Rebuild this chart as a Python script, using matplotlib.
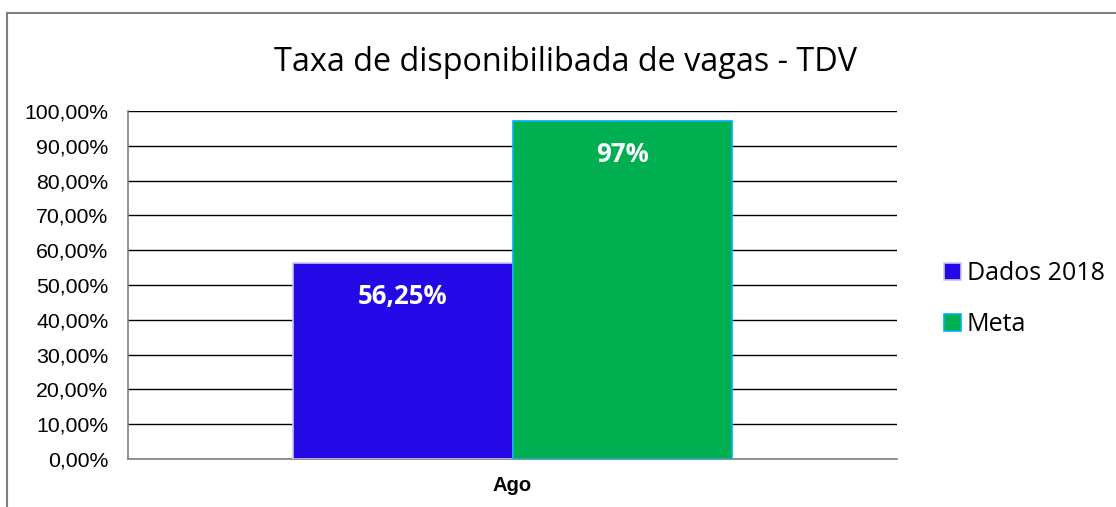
import matplotlib.pyplot as plt
from matplotlib.lines import Line2D
import numpy as np

categorias = ['Ago']
series = ['Dados 2018', 'Meta']
valores = [56.25, 97.0]
rotulos = ['56,25%', '97%']
cores = ['#2408E6', '#00B050']
bordas = ['#C8C8F0', '#00B0F0']
yticks = np.arange(0, 101, 10)

fig = plt.figure(figsize=(11.16, 5.07), dpi=100)
ax = fig.add_axes([0.1147, 0.0947, 0.6891, 0.6863])

x = np.arange(len(categorias))
largura = 0.285
for i, (nome, v, cor, borda, rot) in enumerate(zip(series, valores, cores, bordas, rotulos)):
    pos = x + (i - 0.5) * largura
    ax.bar(pos, [v], width=largura, color=cor, edgecolor=borda, linewidth=1.2,
           label=nome, zorder=3)
    ax.text(pos[0], v - 9.5, rot, ha='center', va='center', color='white',
            fontsize=18.5, fontweight='bold', family='Open Sans', zorder=4)

ax.set_xlim(-0.5, 0.5)
ax.set_ylim(0, 100)
ax.set_yticks(yticks)
ax.set_yticklabels(['%d,00%%' % t for t in yticks], family='Liberation Sans', fontsize=15.3)
ax.set_xticks(x)
ax.set_xticklabels(categorias, family='Liberation Sans', fontsize=14.5, fontweight='bold')
ax.tick_params(axis='both', length=0)
ax.tick_params(axis='y', pad=14)
ax.tick_params(axis='x', pad=12)
ax.grid(axis='y', color='black', linewidth=1, zorder=0)
ax.axhline(100, color='#808080', linewidth=1.5, zorder=1)
for lado in ['top', 'right']:
    ax.spines[lado].set_visible(False)
ax.spines['left'].set_color('#808080')
ax.spines['bottom'].set_color('#808080')
ax.spines['left'].set_linewidth(1.2)
ax.spines['bottom'].set_linewidth(1.2)

fig.text(0.507, 0.877, 'Taxa de disponibilibada de vagas - TDV', ha='center', va='center',
         fontsize=23.3, family='Open Sans')

leg = fig.legend(loc='center left', bbox_to_anchor=(0.826, 0.41), frameon=False,
                 prop={'family': 'Open Sans', 'size': 18}, handlelength=0.65,
                 handleheight=0.65, handletextpad=0.25, labelspacing=1.05)

# moldura (só esquerda e topo)
fig.lines.append(Line2D([0.0065, 0.0065], [0.0, 0.974], transform=fig.transFigure,
                        color='#808080', linewidth=1.5))
fig.lines.append(Line2D([0.0065, 1.0], [0.974, 0.974], transform=fig.transFigure,
                        color='#808080', linewidth=1.5))

fig.savefig('out.png', dpi=100)
